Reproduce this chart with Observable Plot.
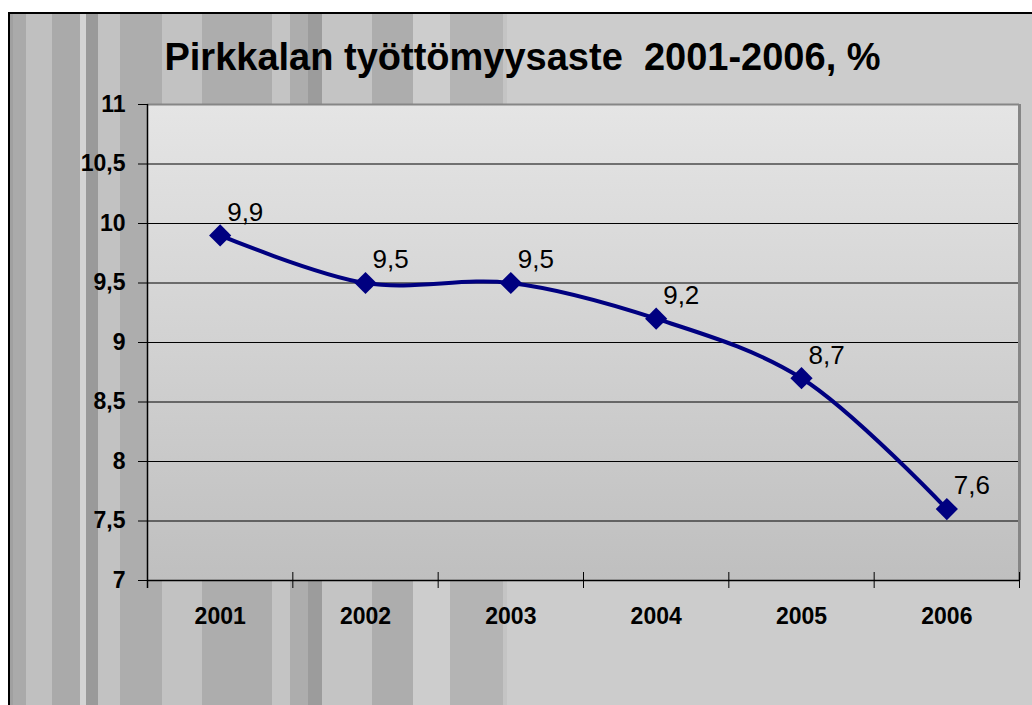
<!DOCTYPE html>
<html>
<head>
<meta charset="utf-8">
<script src="https://cdn.jsdelivr.net/npm/d3@7"></script>
<script src="https://cdn.jsdelivr.net/npm/@observablehq/plot@0.6"></script>
<style>
  html, body { margin: 0; padding: 0; background: #fff; }
  #wrap {
    position: relative; width: 1032px; height: 705px; overflow: hidden;
    font-family: "Liberation Sans", Arial, sans-serif;
    background: linear-gradient(to right,
      #ffffff 0px, #ffffff 8px,
      #a0a0a0 8px, #a0a0a0 13px,
      #aaaaaa 13px, #aaaaaa 26px,
      #c0c0c0 26px, #c0c0c0 52px,
      #aaaaaa 52px, #aaaaaa 80px,
      #d4d4d4 80px, #d4d4d4 86px,
      #9a9a9a 86px, #9a9a9a 98px,
      #c2c2c2 98px, #c2c2c2 120px,
      #adadad 120px, #adadad 162px,
      #c2c2c2 162px, #c2c2c2 202px,
      #adadad 202px, #adadad 272px,
      #c4c4c4 272px, #c4c4c4 290px,
      #adadad 290px, #adadad 308px,
      #9c9c9c 308px, #9c9c9c 322px,
      #c4c4c4 322px, #c4c4c4 372px,
      #adadad 372px, #adadad 413px,
      #cdcdcd 413px, #cdcdcd 450px,
      #b4b4b4 450px, #b4b4b4 503px,
      #c4c4c4 503px, #c4c4c4 507px,
      #cccccc 507px, #cccccc 1032px);
  }
  #topwhite { position: absolute; left: 0; top: 0; width: 1032px; height: 12px; background: #fff; }
  #borderTop { position: absolute; left: 8px; top: 12px; width: 1024px; height: 2px; background: #000; }
  #borderLeft { position: absolute; left: 8px; top: 12px; width: 2px; height: 693px; background: #000; }
  #title {
    position: relative; height: 90px; box-sizing: border-box;
    padding-top: 38px; padding-left: 13px;
    text-align: center; white-space: pre;
    font-size: 38px; line-height: 38px; font-weight: bold; color: #000;
  }
  #chart { position: relative; }
  #chart svg { display: block; background: transparent; overflow: visible; }
  #chart g[aria-label="y-axis tick label"] text,
  #chart g[aria-label="x-axis tick label"] text { font-weight: bold; font-size: 23px; }
</style>
</head>
<body>
<div id="wrap">
  <div id="topwhite"></div>
  <div id="borderTop"></div>
  <div id="borderLeft"></div>
  <div id="title"></div>
  <div id="chart"></div>
</div>
<script>
const chartTitle = "Pirkkalan työttömyysaste  2001-2006, %";
const years = [2001, 2002, 2003, 2004, 2005, 2006];
const rates = [9.9, 9.5, 9.5, 9.2, 8.7, 7.6];
const yTicks = [7, 7.5, 8, 8.5, 9, 9.5, 10, 10.5, 11];
const gridValues = [7.5, 8, 8.5, 9, 9.5, 10, 10.5];
const categoryEdges = [2000.5, 2001.5, 2002.5, 2003.5, 2004.5, 2005.5, 2006.5];

const data = years.map((year, i) => ({year, rate: rates[i]}));
const fmt = d => String(d).replace(".", ",");

document.getElementById("title").textContent = chartTitle;

const plot = Plot.plot({
  width: 1032,
  height: 615,
  marginTop: 14,
  marginBottom: 125,
  marginLeft: 147,
  marginRight: 13,
  style: {fontFamily: "'Liberation Sans', Arial, sans-serif", color: "#000", background: "transparent", overflow: "visible"},
  x: {domain: [2000.5, 2006.5], axis: null},
  y: {domain: [7, 11], axis: null},
  marks: [
    Plot.frame({fill: "url(#plotAreaGrad)", stroke: null}),
    Plot.ruleY(gridValues, {stroke: "#000", strokeWidth: 1}),
    Plot.ruleY([11], {stroke: "#868686", strokeWidth: 2}),
    Plot.ruleX([2006.5], {y1: 11, y2: 7, stroke: "#868686", strokeWidth: 3}),
    Plot.ruleY([7], {stroke: "#000", strokeWidth: 1.5}),
    Plot.ruleX([2000.5], {y1: 11, y2: 7, insetBottom: -8, stroke: "#000", strokeWidth: 1.5}),
    Plot.ruleX(categoryEdges, {y1: 7, y2: 7, insetTop: -8, insetBottom: -8, stroke: "#000", strokeWidth: 1}),
    Plot.axisY({ticks: yTicks, tickFormat: fmt, tickSize: 9, tickPadding: 13, fontSize: 23, fontWeight: "bold", stroke: "#000", label: null}),
    Plot.axisX({ticks: years, tickFormat: d => String(d), tickSize: 0, tickPadding: 27, fontSize: 23, fontWeight: "bold", label: null}),
    Plot.line(data, {x: "year", y: "rate", curve: "catmull-rom", stroke: "#000080", strokeWidth: 4}),
    Plot.dot(data, {x: "year", y: "rate", symbol: "diamond2", r: 10, fill: "#000080", stroke: null}),
    Plot.text(data, {x: "year", y: "rate", text: d => fmt(d.rate), textAnchor: "start", dx: 7, dy: -23, fontSize: 26, fill: "#000"})
  ]
});

const ns = "http://www.w3.org/2000/svg";
const defs = document.createElementNS(ns, "defs");
const grad = document.createElementNS(ns, "linearGradient");
grad.setAttribute("id", "plotAreaGrad");
grad.setAttribute("x1", "0"); grad.setAttribute("y1", "0");
grad.setAttribute("x2", "0"); grad.setAttribute("y2", "1");
[["0%", "#e5e5e5"], ["100%", "#bfbfbf"]].forEach(([o, c]) => {
  const s = document.createElementNS(ns, "stop");
  s.setAttribute("offset", o); s.setAttribute("stop-color", c);
  grad.appendChild(s);
});
defs.appendChild(grad);
plot.insertBefore(defs, plot.firstChild);

document.getElementById("chart").appendChild(plot);
</script>
</body>
</html>
